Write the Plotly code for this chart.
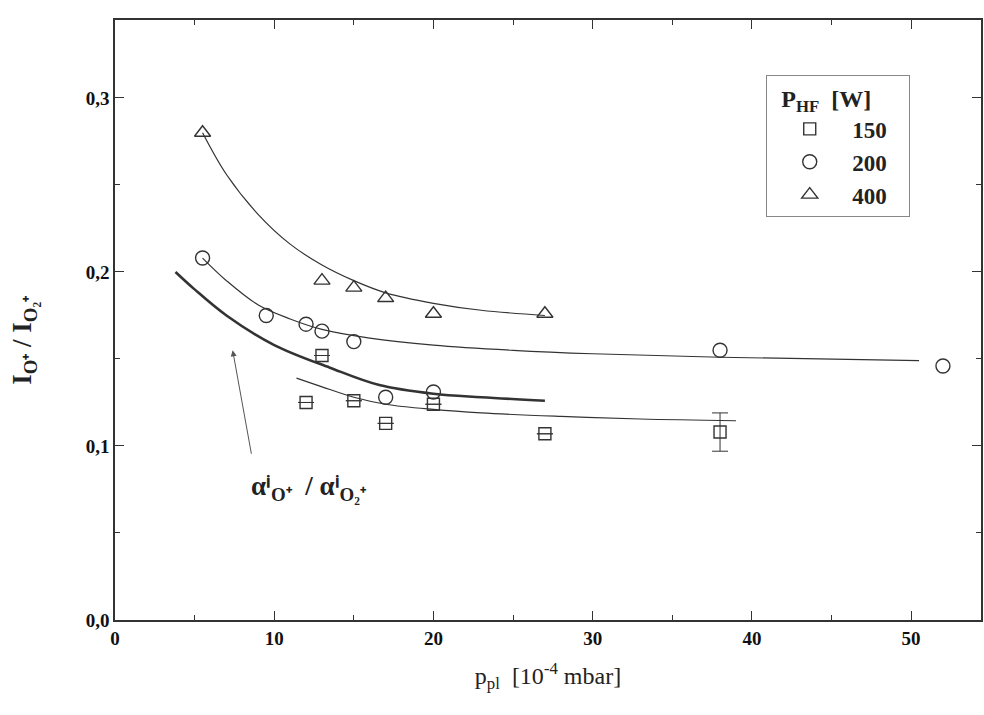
import plotly.graph_objects as go

# ---- data ----
x_150 = [12, 13, 15, 17, 20, 27, 38]
y_150 = [0.125, 0.152, 0.126, 0.113, 0.124, 0.107, 0.108]
err_150 = [0, 0, 0, 0, 0, 0, 0.011]

x_200 = [5.5, 9.5, 12, 13, 15, 17, 20, 38, 52]
y_200 = [0.208, 0.175, 0.170, 0.166, 0.160, 0.128, 0.131, 0.155, 0.146]

x_400 = [5.5, 13, 15, 17, 20, 27]
y_400 = [0.280, 0.195, 0.191, 0.185, 0.176, 0.176]

# fitted curves
fit150_x = [11.4, 13, 15, 17, 20, 23, 28, 33, 39]
fit150_y = [0.139, 0.134, 0.128, 0.124, 0.121, 0.119, 0.117, 0.1155, 0.1145]

fit200_x = [5.5, 7, 9, 11, 13, 16, 20, 25, 30, 38, 50.5]
fit200_y = [0.208, 0.195, 0.181, 0.173, 0.167, 0.162, 0.158, 0.155, 0.153, 0.151, 0.149]

fit400_x = [5.5, 7, 9, 11, 13, 15, 17, 20, 23, 27]
fit400_y = [0.280, 0.256, 0.233, 0.216, 0.204, 0.195, 0.188, 0.182, 0.178, 0.175]

alpha_x = [3.8, 5, 7, 10, 13.5, 16.6, 20, 23, 27]
alpha_y = [0.200, 0.190, 0.175, 0.158, 0.145, 0.135, 0.130, 0.128, 0.126]

x_ticks = [0, 10, 20, 30, 40, 50]
y_ticks = [0.0, 0.1, 0.2, 0.3]
y_ticklabels = ["0,0", "0,1", "0,2", "0,3"]

INK = "#333333"
SERIF = "Liberation Serif"

fig = go.Figure()

def curve(xs, ys, w):
    fig.add_trace(go.Scatter(x=xs, y=ys, mode="lines", showlegend=False,
                             line=dict(color=INK, width=w, shape="spline", smoothing=1.0),
                             hoverinfo="skip"))

curve(fit400_x, fit400_y, 1.2)
curve(fit200_x, fit200_y, 1.2)
curve(fit150_x, fit150_y, 1.2)
curve(alpha_x, alpha_y, 2.6)

fig.add_trace(go.Scatter(x=x_150, y=y_150, mode="markers", name="150&nbsp;&nbsp;&nbsp;",
                         marker=dict(symbol="square-open", size=12, color=INK, line=dict(width=1.4)),
                         error_y=dict(type="data", array=err_150, color=INK, thickness=1, width=8)))
fig.add_trace(go.Scatter(x=x_200, y=y_200, mode="markers", name="200&nbsp;&nbsp;&nbsp;",
                         marker=dict(symbol="circle-open", size=14, color=INK, line=dict(width=1.4))))
fig.add_trace(go.Scatter(x=x_400, y=y_400, mode="markers", name="400&nbsp;&nbsp;&nbsp;",
                         marker=dict(symbol="triangle-up-open", size=14, color=INK, line=dict(width=1.4))))

axis_common = dict(showgrid=False, zeroline=False, showline=True, linecolor=INK, linewidth=1.6,
                   mirror="allticks", ticks="inside", tickcolor=INK, ticklen=9, tickwidth=1.2)

fig.update_xaxes(range=[0, 54.39], tickvals=x_ticks,
                 tickfont=dict(family=SERIF, size=19, color="#111", weight="bold"),
                 minor=dict(dtick=5, ticks="inside", ticklen=5, tickcolor=INK),
                 title=dict(text="p<sub>pl</sub>  [10<sup>-4</sup> mbar]",
                            font=dict(family=SERIF, size=24, color="#222"), standoff=20),
                 **axis_common)
fig.update_yaxes(range=[0, 0.3448], tickvals=y_ticks, ticktext=y_ticklabels,
                 tickfont=dict(family=SERIF, size=19, color="#111", weight="bold"),
                 minor=dict(dtick=0.05, ticks="inside", ticklen=5, tickcolor=INK),
                 **axis_common)

fig.add_annotation(xref="paper", yref="paper", x=-0.105, y=0.467,
                   text="I<sub>O⁺</sub> / I<sub>O₂⁺</sub>", textangle=-90, showarrow=False,
                   font=dict(family=SERIF, size=27, color="#222", weight="bold"),
                   xanchor="center", yanchor="middle")

# arrow
fig.add_annotation(x=7.39, y=0.155, ax=19, ay=105, text="", showarrow=True,
                   arrowhead=2, arrowsize=1.2, arrowwidth=1, arrowcolor="#555")
fig.add_annotation(x=12.2, y=0.076, text="αⁱ<sub>O⁺</sub>  / αⁱ<sub>O₂⁺</sub>", showarrow=False,
                   font=dict(family=SERIF, size=27, color="#222", weight="bold"))

fig.update_layout(
    width=984, height=715,
    margin=dict(l=115, r=1, t=20, b=95),
    plot_bgcolor="white", paper_bgcolor="white",
    legend=dict(x=0.752, y=0.908, xanchor="left", yanchor="top",
                bgcolor="white", bordercolor="#888", borderwidth=1,
                font=dict(family=SERIF, size=23, color="#222", weight="bold"),
                title=dict(text="&nbsp;&nbsp;P<sub>HF</sub>&nbsp;&nbsp;[W]",
                           font=dict(family=SERIF, size=24, color="#222", weight="bold")),
                itemwidth=75, tracegroupgap=0),
    separators=", ",
)

fig.write_html("out.html", config={"displayModeBar": False},
               post_script="document.body.style.margin='0';")
